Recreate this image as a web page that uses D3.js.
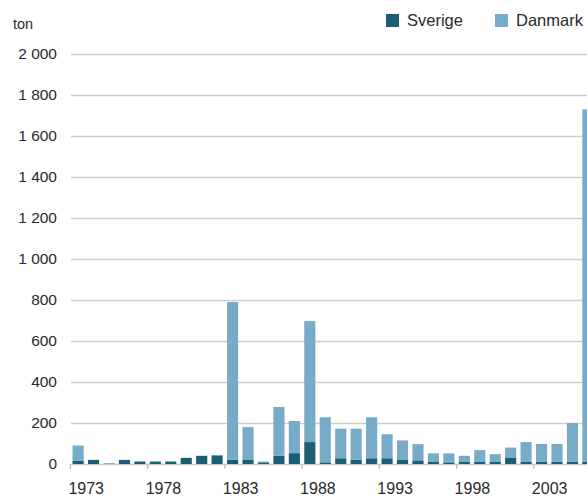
<!DOCTYPE html>
<html>
<head>
<meta charset="utf-8">
<script src="https://cdn.jsdelivr.net/npm/d3@7"></script>
<style>
  html, body { margin: 0; padding: 0; background: #fff; overflow: hidden; }
  svg { display: block; font-family: "Liberation Sans", Arial, Helvetica, sans-serif; }
</style>
</head>
<body>
<svg id="chart" width="587" height="498"></svg>
<script>
// Yearly catches in tonnes, by country
const years = d3.range(1973, 2007);
const sverige = [15, 20, 2, 20, 12, 12, 12, 30, 40, 42, 20, 22, 8, 40, 53, 107, 8, 28, 20, 28,
                 28, 22, 18, 10, 8, 10, 12, 10, 32, 10, 10, 10, 10, 10];
const totals  = [90, 20, 3, 20, 12, 12, 12, 30, 40, 42, 790, 180, 12, 278, 210, 697, 228, 172, 172, 228,
                 145, 115, 97, 52, 52, 40, 68, 48, 80, 107, 98, 98, 200, 1730];
const danmark = totals.map((t, i) => Math.max(0, t - sverige[i]));
const seriesNames = ["Sverige", "Danmark"];
const seriesColors = ["#1c5f74", "#78abc7"];
const yTicks = [0, 200, 400, 600, 800, 1000, 1200, 1400, 1600, 1800, 2000];
const xTickYears = [1973, 1978, 1983, 1988, 1993, 1998, 2003];
const unitLabel = "ton";

const rows = years.map((yr, i) => ({ year: yr, Sverige: sverige[i], Danmark: danmark[i] }));

const svg = d3.select("#chart");
const W = 587;
const plotLeft = 71, plotBottom = 464, plotTop = 54;

const x = d3.scaleBand()
  .domain(years)
  .range([plotLeft, 595])
  .paddingInner(0.28)
  .paddingOuter(0.1);

const y = d3.scaleLinear()
  .domain([0, 2000])
  .range([plotBottom, plotTop]);

const color = d3.scaleOrdinal().domain(seriesNames).range(seriesColors);

const locale = d3.formatLocale({ decimal: ",", thousands: "\u00a0", grouping: [3], currency: ["", " kr"] });
const fmt = locale.format(",d");

// Horizontal grid and value labels
const yAxis = svg.append("g")
  .attr("transform", `translate(${plotLeft},0)`)
  .call(d3.axisLeft(y).tickValues(yTicks).tickFormat(fmt).tickSize(-(W - plotLeft)).tickPadding(14));
yAxis.select(".domain").remove();
yAxis.selectAll(".tick line").attr("stroke", "#cdcdcd").attr("stroke-width", 1.6);
yAxis.selectAll(".tick text").attr("fill", "#2a2a2a").attr("font-size", 15.5);

// Stacked bars
const stacked = d3.stack().keys(seriesNames)(rows);
svg.append("g")
  .selectAll("g")
  .data(stacked)
  .join("g")
  .attr("fill", d => color(d.key))
  .selectAll("rect")
  .data(d => d)
  .join("rect")
  .attr("x", d => x(d.data.year))
  .attr("width", x.bandwidth())
  .attr("y", d => y(d[1]))
  .attr("height", d => y(d[0]) - y(d[1]));

// Year axis: ticks sit on the category boundaries
const gap = x.step() * x.paddingInner() / 2;
const xAxis = svg.append("g")
  .attr("transform", `translate(0,${plotBottom})`)
  .call(d3.axisBottom(x).tickValues(xTickYears).tickSize(5).tickPadding(14));
xAxis.select(".domain").remove();
xAxis.selectAll(".tick line")
  .attr("stroke", "#bbbbbb")
  .attr("stroke-width", 1.2)
  .attr("transform", `translate(${-(x.bandwidth() / 2 + gap)},0)`);
xAxis.selectAll(".tick text")
  .attr("fill", "#2a2a2a")
  .attr("font-size", 16)
  .attr("text-anchor", "start")
  .attr("x", -(x.bandwidth() / 2 + gap) - 2);

// Unit label
svg.append("text")
  .attr("x", 13).attr("y", 29)
  .attr("font-size", 14.5)
  .attr("fill", "#2a2a2a")
  .text(unitLabel);

// Legend
const legendX = [386, 495];
const legend = svg.append("g");
seriesNames.forEach((name, i) => {
  legend.append("rect")
    .attr("x", legendX[i]).attr("y", 14)
    .attr("width", 13).attr("height", 13)
    .attr("fill", color(name));
  legend.append("text")
    .attr("x", legendX[i] + 21).attr("y", 26)
    .attr("font-size", 16.5)
    .attr("fill", "#2a2a2a")
    .text(name);
});
</script>
</body>
</html>
